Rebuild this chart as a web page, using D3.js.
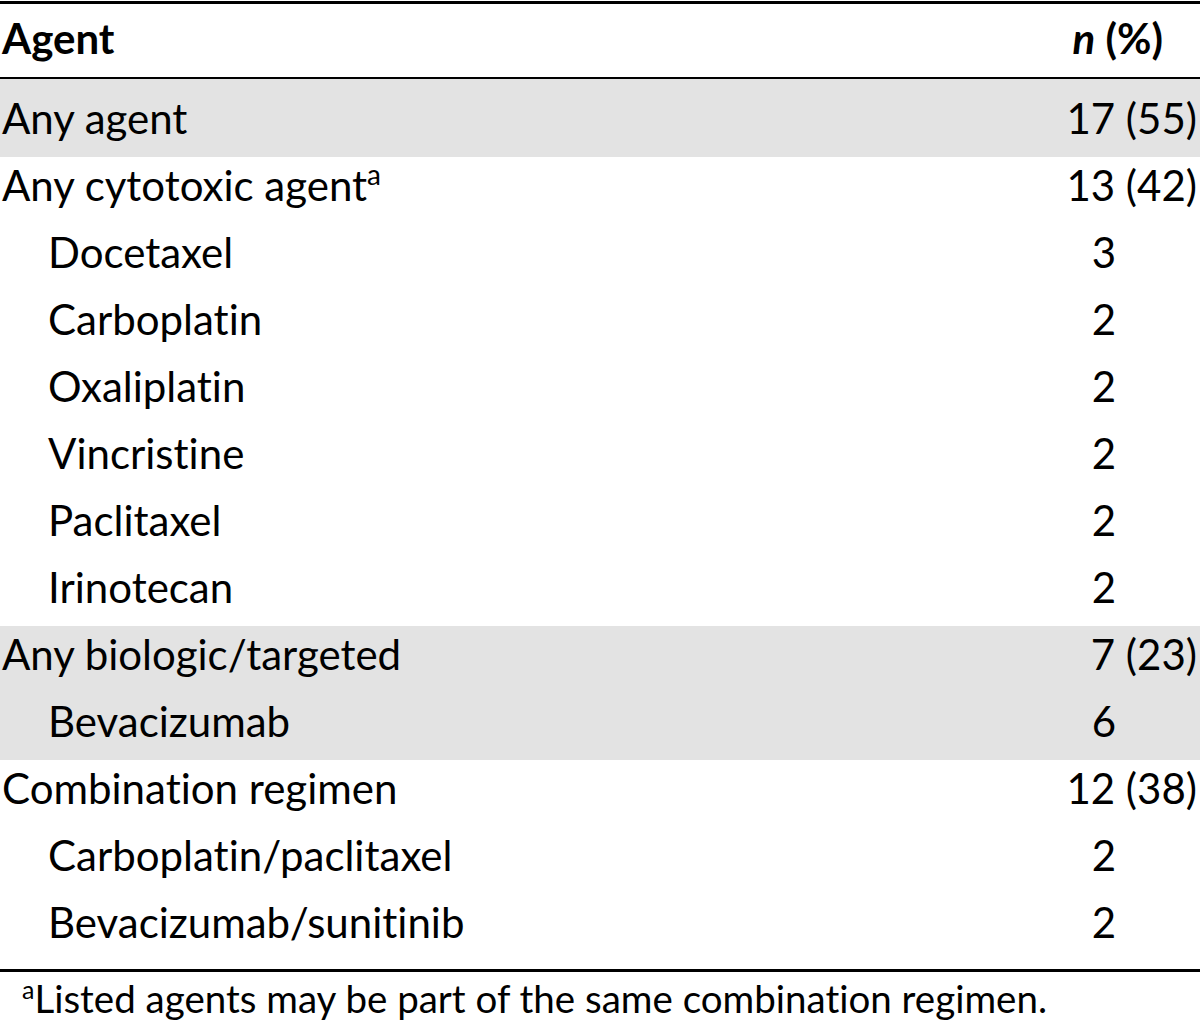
<!DOCTYPE html>
<html>
<head>
  <meta charset="utf-8" />
  <title>Agents</title>
  <script type="text/javascript" src="https://cdn.jsdelivr.net/npm/d3@7"></script>
  <style type="text/css">
  body {
    margin: 0;
    background: #fff;
  }
  text {
    font-family: Lato, "Open Sans", sans-serif;
    font-variant-ligatures: none;
    fill: #000;
  }
  .rule {
    stroke: #000;
    shape-rendering: crispedges;
  }
  </style>
</head>
<body>
  <script type="text/javascript">
    // table content
    var agents = ['Any agent', 'Any cytotoxic agent', 'Docetaxel', 'Carboplatin', 'Oxaliplatin',
      'Vincristine', 'Paclitaxel', 'Irinotecan', 'Any biologic/targeted', 'Bevacizumab',
      'Combination regimen', 'Carboplatin/paclitaxel', 'Bevacizumab/sunitinib']
    var counts = [17, 13, 3, 2, 2, 2, 2, 2, 7, 6, 12, 2, 2]
    var percents = [55, 42, null, null, null, null, null, null, 23, null, 38, null, null]
    var indent = [0, 0, 1, 1, 1, 1, 1, 1, 0, 1, 0, 1, 1]
    var shaded = [1, 0, 0, 0, 0, 0, 0, 0, 1, 1, 0, 0, 0]
    var footMark = [null, 'a', null, null, null, null, null, null, null, null, null, null, null]
    var footnote = 'Listed agents may be part of the same combination regimen.'

    var w = 1200,
        h = 1021,
        fs = 42

    var svg = d3.select(document.body)
      .append('svg')
      .attr('width', w)
      .attr('height', h)

    // first body row is a bit taller than the rest
    var rowTop = function(i) { return i === 0 ? 79 : 157 + (i - 1) * 67 }
    var rowH = function(i) { return i === 0 ? 78 : 67 }
    var x = d3.scaleLinear().domain([0, 1]).range([2, 48])

    var rows = svg.selectAll('g.row')
      .data(agents)
    .enter().append('g')
      .attr('class', 'row')
      .attr('transform', function(d, i) { return 'translate(0,' + rowTop(i) + ')' })

    rows.append('rect')
      .attr('width', w)
      .attr('height', function(d, i) { return rowH(i) })
      .attr('fill', function(d, i) { return shaded[i] ? '#e3e3e3' : 'none' })

    var label = rows.append('text')
      .attr('x', function(d, i) { return x(indent[i]) })
      .attr('y', function(d, i) { return rowH(i) - 23 })
      .style('font-size', fs + 'px')
      .text(function(d) { return d })
    label.filter(function(d, i) { return footMark[i] })
      .append('tspan')
      .attr('dy', -16)
      .style('font-size', '28px')
      .text(function(d) { return footMark[agents.indexOf(d)] })

    rows.append('text')
      .attr('x', function(d, i) { return percents[i] == null ? 1104 : 1197 })
      .attr('y', function(d, i) { return rowH(i) - 23 })
      .attr('text-anchor', function(d, i) { return percents[i] == null ? 'middle' : 'end' })
      .style('font-size', fs + 'px')
      .text(function(d, i) {
        return percents[i] == null ? counts[i] : counts[i] + ' (' + percents[i] + ')'
      })

    // header
    svg.append('text')
      .attr('x', 2).attr('y', 54)
      .style('font-size', fs + 'px')
      .style('font-weight', 'bold')
      .text('Agent')
    var hd = svg.append('text')
      .attr('x', 1163).attr('y', 54)
      .attr('text-anchor', 'end')
      .style('font-size', fs + 'px')
      .style('font-weight', 'bold')
    hd.append('tspan').style('font-style', 'italic').text('n')
    hd.append('tspan').text(' (%)')

    // rules
    var rules = [[2, 3], [78, 2], [970, 3]]
    svg.selectAll('line.rule')
      .data(rules)
    .enter().append('line')
      .attr('class', 'rule')
      .attr('x1', 0).attr('x2', w)
      .attr('y1', function(d) { return d[0] })
      .attr('y2', function(d) { return d[0] })
      .attr('stroke-width', function(d) { return d[1] })

    // footnote
    var fn = svg.append('text')
      .attr('x', 22).attr('y', 1013)
      .style('font-size', '38.5px')
    fn.append('tspan').attr('dy', -14).style('font-size', '25px').text('a')
    fn.append('tspan').attr('dy', 14).text(footnote)
  </script>
</body>
</html>
